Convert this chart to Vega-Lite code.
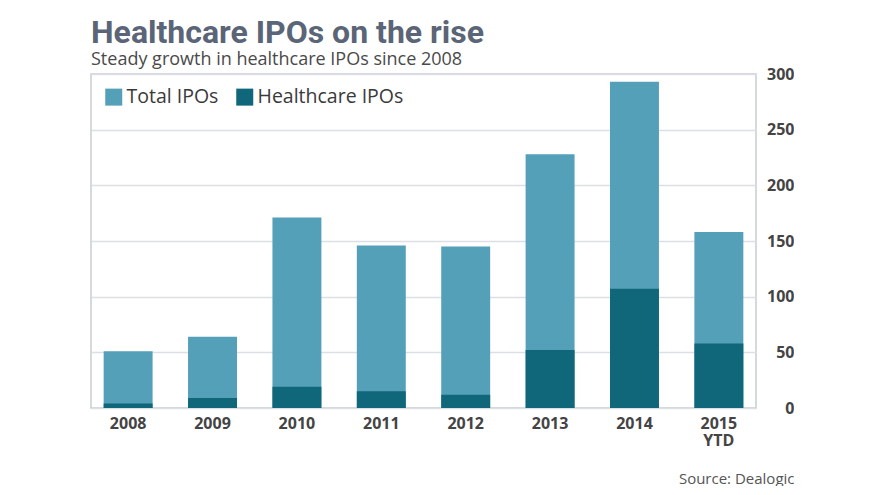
{
  "$schema": "https://vega.github.io/schema/vega-lite/v6.json",
  "width": 665,
  "height": 334,
  "padding": {"left": 91, "top": 17, "right": 0, "bottom": 0},
  "background": "white",
  "title": {
    "text": "Healthcare IPOs on the rise",
    "subtitle": "Steady growth in healthcare IPOs since 2008",
    "anchor": "start",
    "frame": "group",
    "font": "Roboto",
    "fontSize": 32,
    "fontWeight": "bold",
    "color": "#5a6577",
    "subtitleFont": "Open Sans",
    "subtitleFontSize": 18,
    "subtitleColor": "#4a4a4a",
    "subtitlePadding": 1,
    "offset": -4
  },
  "data": {
    "values": [
      {"year": "2008", "series": "Total IPOs", "count": 51},
      {"year": "2008", "series": "Healthcare IPOs", "count": 4},
      {"year": "2009", "series": "Total IPOs", "count": 64},
      {"year": "2009", "series": "Healthcare IPOs", "count": 9},
      {"year": "2010", "series": "Total IPOs", "count": 171},
      {"year": "2010", "series": "Healthcare IPOs", "count": 19},
      {"year": "2011", "series": "Total IPOs", "count": 146},
      {"year": "2011", "series": "Healthcare IPOs", "count": 15},
      {"year": "2012", "series": "Total IPOs", "count": 145},
      {"year": "2012", "series": "Healthcare IPOs", "count": 12},
      {"year": "2013", "series": "Total IPOs", "count": 228},
      {"year": "2013", "series": "Healthcare IPOs", "count": 52},
      {"year": "2014", "series": "Total IPOs", "count": 293},
      {"year": "2014", "series": "Healthcare IPOs", "count": 107},
      {"year": "2015 YTD", "series": "Total IPOs", "count": 158},
      {"year": "2015 YTD", "series": "Healthcare IPOs", "count": 58}
    ]
  },
  "mark": {"type": "bar"},
  "encoding": {
    "x": {
      "field": "year",
      "type": "nominal",
      "sort": null,
      "scale": {"paddingInner": 0.42, "paddingOuter": 0.15},
      "axis": {
        "title": "Source: Dealogic",
        "titleFont": "Open Sans",
        "titleFontSize": 15,
        "titleFontWeight": "normal",
        "titleColor": "#555555",
        "titleAnchor": null,
        "titleAlign": "right",
        "titleBaseline": "alphabetic",
        "titleX": 703,
        "titleY": 75,
        "labelAngle": 0,
        "labelFont": "Open Sans",
        "labelFontSize": 16,
        "labelFontWeight": "bold",
        "labelColor": "#444444",
        "labelPadding": 7,
        "labelLineHeight": 17,
        "labelExpr": "datum.value == '2015 YTD' ? ['2015', 'YTD'] : datum.value",
        "ticks": false,
        "domain": false,
        "grid": false
      }
    },
    "y": {
      "field": "count",
      "type": "quantitative",
      "stack": null,
      "scale": {"domain": [0, 300], "nice": false},
      "axis": {
        "orient": "right",
        "title": null,
        "values": [0, 50, 100, 150, 200, 250, 300],
        "labelFont": "Open Sans",
        "labelFontSize": 16,
        "labelFontWeight": "bold",
        "labelColor": "#444444",
        "labelAlign": "right",
        "labelPadding": 38,
        "ticks": false,
        "domain": false,
        "grid": true,
        "gridColor": "#dcdfe3",
        "gridWidth": 1.5
      }
    },
    "color": {
      "field": "series",
      "type": "nominal",
      "scale": {"domain": ["Total IPOs", "Healthcare IPOs"], "range": ["#54a0b9", "#106779"]},
      "legend": {
        "title": null,
        "orient": "top-left",
        "direction": "horizontal",
        "offset": 13,
        "symbolType": "square",
        "symbolSize": 289,
        "symbolStrokeWidth": 0,
        "symbolOpacity": 1,
        "labelFont": "Open Sans",
        "labelFontSize": 19.5,
        "labelColor": "#3a3a3a",
        "labelOffset": 3,
        "columnPadding": 16
      }
    }
  },
  "config": {
    "view": {"stroke": "#c8ccd2", "strokeWidth": 1.5}
  }
}
